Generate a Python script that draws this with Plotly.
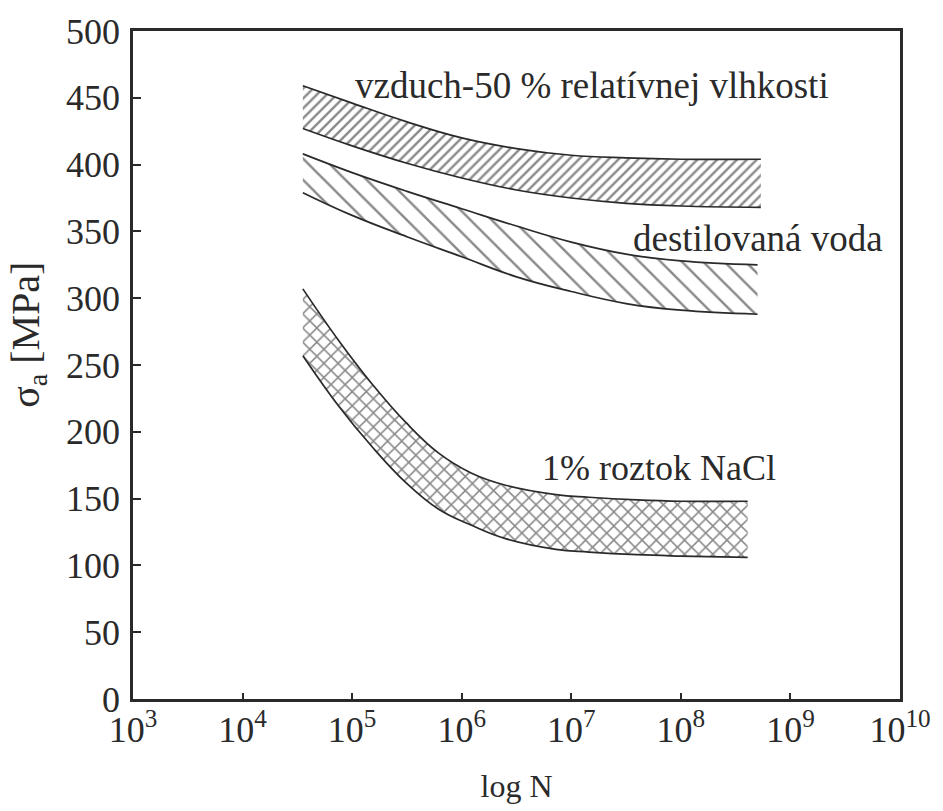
import numpy as np
import plotly.graph_objects as go

# log10(N) sample positions and stress amplitudes [MPa]
air_logn = [4.55, 5.0, 5.5, 6.0, 6.5, 7.0, 7.5, 8.0, 8.73]
air_upper = [459, 446, 432, 420, 412, 407, 405, 404, 404]
air_lower = [427, 414, 401, 390, 381, 375, 371, 369, 368]

water_logn = [4.55, 5.0, 5.5, 6.0, 6.5, 7.0, 7.5, 8.0, 8.7]
water_upper = [408, 394, 380, 367, 354, 342, 333, 328, 325]
water_lower = [379, 362, 346, 331, 316, 305, 296, 291, 288]

nacl_logn = [4.55, 4.88, 5.18, 5.49, 5.79, 6.09, 6.40, 6.86, 7.16, 7.6, 8.0, 8.61]
nacl_upper = [307, 268, 236, 207, 184, 169, 160, 153, 151, 149, 148, 148]
nacl_lower = [257, 219, 189, 162, 142, 130, 120, 112, 110, 108, 107, 106]

x_tick_exp = [3, 4, 5, 6, 7, 8, 9, 10]
y_ticks = [0, 50, 100, 150, 200, 250, 300, 350, 400, 450, 500]

labels = ["vzduch-50 % relatívnej vlhkosti", "destilovaná voda", "1% roztok NaCl"]
label_logn = [7.19, 8.70, 7.80]
label_sigma = [459, 345, 173]

INK = "#2a2a2a"
FONT = "Liberation Serif"

fig = go.Figure()

bands = [
    (air_logn, air_upper, air_lower, "/", 7, 0.34),
    (water_logn, water_upper, water_lower, "\\", 15, 0.16),
    (nacl_logn, nacl_upper, nacl_lower, "x", 10, 0.28),
]

for logn, up, lo, shape, size, sol in bands:
    xs = np.power(10.0, np.array(logn))
    fig.add_trace(go.Scatter(
        x=xs, y=lo, mode="lines",
        line=dict(color=INK, width=1.7, shape="spline", smoothing=1.2),
        hoverinfo="skip", showlegend=False,
    ))
    fig.add_trace(go.Scatter(
        x=xs, y=up, mode="lines", fill="tonexty",
        line=dict(color=INK, width=1.7, shape="spline", smoothing=1.2),
        fillcolor="rgba(255,255,255,0)",
        fillpattern=dict(shape=shape, fgcolor="#141414", bgcolor="white", size=size, solidity=sol),
        hoverinfo="skip", showlegend=False,
    ))

# band labels
for txt, lx, ly, fs in zip(labels, label_logn, label_sigma, [37, 37, 36]):
    fig.add_annotation(x=lx, y=ly, text=txt, showarrow=False,
                       font=dict(family=FONT, size=fs, color=INK),
                       xanchor="center", yanchor="middle")

# y title
fig.add_annotation(xref="paper", yref="paper", x=-0.137, y=0.545,
                   text="σ<sub>a</sub> [MPa]", textangle=-90, showarrow=False,
                   font=dict(family=FONT, size=40, color=INK),
                   xanchor="center", yanchor="middle")

fig.update_layout(
    width=943, height=811,
    margin=dict(l=133, r=41, t=25, b=112),
    paper_bgcolor="white", plot_bgcolor="white",
    font=dict(family=FONT, color=INK, size=36),
)
fig.update_xaxes(
    type="log", range=[3, 10],
    tickvals=[10**k for k in x_tick_exp],
    ticktext=[f"10<sup>{k}</sup>" for k in x_tick_exp],
    ticks="inside", ticklen=6, tickwidth=1.5, tickcolor=INK,
    ticklabelstandoff=-3,
    showline=True, linecolor=INK, linewidth=2.5, mirror=True,
    showgrid=False, zeroline=False,
    tickfont=dict(family=FONT, size=36, color=INK),
    title=dict(text="log N", font=dict(family=FONT, size=32, color=INK), standoff=26),
)
fig.update_yaxes(
    range=[0, 500], tickvals=y_ticks,
    ticks="inside", ticklen=8, tickwidth=1.5, tickcolor=INK,
    ticklabelstandoff=3,
    showline=True, linecolor=INK, linewidth=2.5, mirror=True,
    showgrid=False, zeroline=False,
    tickfont=dict(family=FONT, size=36, color=INK),
)

fig.write_html("out.html")
